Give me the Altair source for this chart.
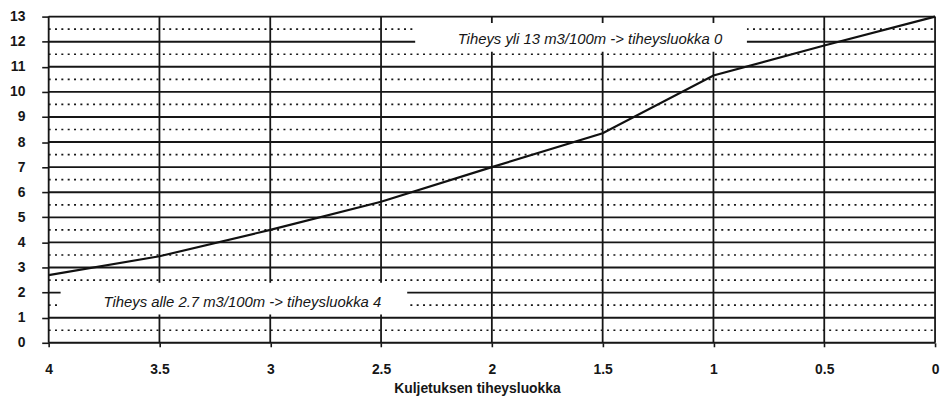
import altair as alt
import pandas as pd

# --- data ---
x_class = [4, 3.5, 3, 2.5, 2, 1.5, 1, 0.5, 0]
density = [2.7, 3.45, 4.5, 5.62, 7.0, 8.35, 10.65, 11.85, 13.0]

solid_y = list(range(0, 14))
dotted_y = [i + 0.5 for i in range(13)]
vert_x = [i * 0.5 for i in range(9)]

box_x1 = [2.346, 3.946]
box_x2 = [0.849, 2.382]
box_y1 = [12.743, 2.392]
box_y2 = [11.597, 1.127]

note_text = ["Tiheys yli 13 m3/100m -> tiheysluokka 0",
             "Tiheys alle 2.7 m3/100m -> tiheysluokka 4"]
note_x = [1.5575, 3.126]
note_y = [12.1, 1.62]

W, H = 894, 329
FONT = "Liberation Sans"
INK = "#161616"

xs = alt.Scale(domain=[0, 4], reverse=True, nice=False, zero=False)
ys = alt.Scale(domain=[0, 13], nice=False, zero=False)

x_axis = alt.Axis(values=vert_x, labelExpr="'' + datum.value", grid=False, domain=False,
                  tickColor=INK, tickSize=4, tickWidth=1.6, labelFlush=False, labelOverlap=False,
                  labelFont=FONT, labelFontSize=14, labelFontWeight="bold", labelColor=INK,
                  labelPadding=16,
                  title="Kuljetuksen tiheysluokka", titleFont=FONT, titleFontSize=14,
                  titleFontWeight="bold", titleColor=INK, titleX=432, titleY=46,
                  titleBaseline="middle")
y_axis = alt.Axis(values=solid_y, grid=False, domain=False, tickColor=INK, tickSize=7,
                  tickWidth=1.6, labelFont=FONT, labelFontSize=14, labelFontWeight="bold",
                  labelColor=INK, labelPadding=17, title=None, labelFlush=False)

line_df = pd.DataFrame({"x": x_class, "y": density})
solid_df = pd.DataFrame({"y": solid_y})
dotted_df = pd.DataFrame({"y": dotted_y})
vert_df = pd.DataFrame({"x": vert_x})
box_df = pd.DataFrame({"x": box_x1, "x2": box_x2, "y": box_y1, "y2": box_y2})
note_df = pd.DataFrame({"t": note_text, "x": note_x, "y": note_y})

vert = alt.Chart(vert_df).mark_rule(color=INK, strokeWidth=1.8).encode(
    x=alt.X("x:Q", scale=xs, axis=x_axis),
    y=alt.value(0), y2=alt.value(H))

dotted = alt.Chart(dotted_df).mark_rule(color=INK, strokeWidth=1.7, strokeDash=[2, 4.4]).encode(
    y=alt.Y("y:Q", scale=ys, axis=y_axis),
    x=alt.value(0), x2=alt.value(W))

solid = alt.Chart(solid_df).mark_rule(color=INK, strokeWidth=1.9).encode(
    y=alt.Y("y:Q", scale=ys, axis=y_axis),
    x=alt.value(0), x2=alt.value(W))

boxes = alt.Chart(box_df).mark_rect(color="white").encode(
    x=alt.X("x:Q", scale=xs, axis=x_axis), x2="x2:Q",
    y=alt.Y("y:Q", scale=ys, axis=y_axis), y2="y2:Q")

notes = alt.Chart(note_df).mark_text(
    font=FONT, fontSize=15, fontStyle="italic", color=INK, baseline="middle", align="center"
).encode(
    x=alt.X("x:Q", scale=xs, axis=x_axis),
    y=alt.Y("y:Q", scale=ys, axis=y_axis),
    text="t:N")

line = alt.Chart(line_df).mark_line(color="#111111", strokeWidth=2.2).encode(
    x=alt.X("x:Q", scale=xs, axis=x_axis),
    y=alt.Y("y:Q", scale=ys, axis=y_axis))

chart = alt.layer(vert, dotted, solid, boxes, notes, line).properties(
    width=W, height=H,
    padding={"left": 41, "top": 7, "right": 6, "bottom": 54},
    autosize=alt.AutoSizeParams(type="none"),
).configure_view(stroke=None).configure(background="white")

chart.save("out.html", embed_options={"renderer": "svg", "actions": False})
